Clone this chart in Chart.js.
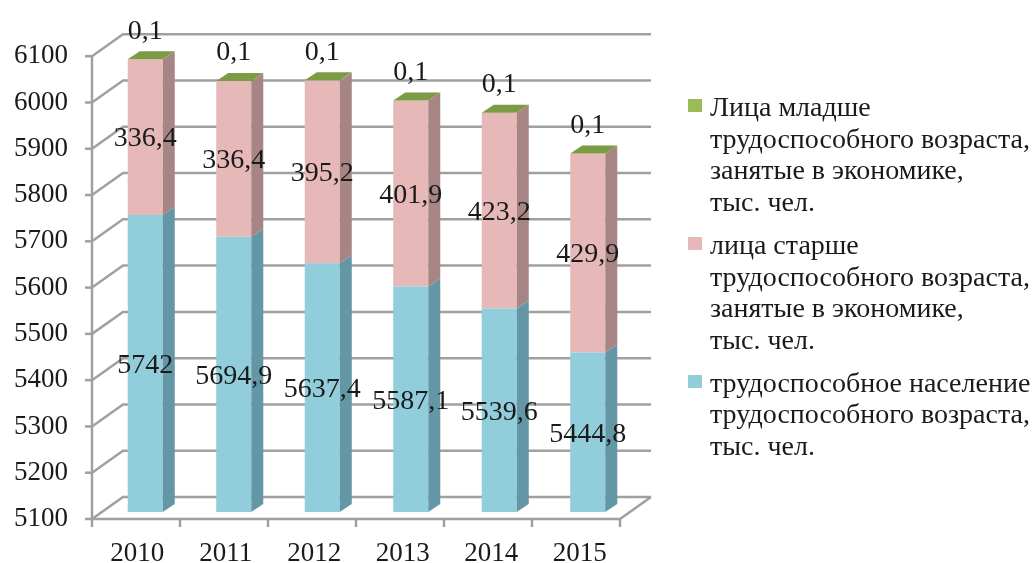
<!DOCTYPE html>
<html>
<head>
<meta charset="utf-8">
<script src="https://cdn.jsdelivr.net/npm/chart.js@4.4.1/dist/chart.umd.min.js"></script>
<style>
html,body{margin:0;padding:0;background:#fff;}
#wrap{position:relative;width:1035px;height:563px;}
#legend{position:absolute;left:688px;top:91px;font-family:"Liberation Serif","Times New Roman",serif;font-size:28px;line-height:31.7px;color:#1a1a1a;}
.item{position:relative;padding-left:22px;margin-bottom:11px;white-space:nowrap;}
.sw{position:absolute;left:0;top:8px;width:14px;height:13px;}
</style>
</head>
<body>
<div id="wrap">
<canvas id="c" width="1035" height="563"></canvas>
<div id="legend"></div>
</div>
<script>
const categories = ['2010','2011','2012','2013','2014','2015'];
const workingAge = [5742, 5694.9, 5637.4, 5587.1, 5539.6, 5444.8];
const olderAge = [336.4, 336.4, 395.2, 401.9, 423.2, 429.9];
const youngerAge = [0.1, 0.1, 0.1, 0.1, 0.1, 0.1];
const workingLabels = ['5742','5694,9','5637,4','5587,1','5539,6','5444,8'];
const olderLabels = ['336,4','336,4','395,2','401,9','423,2','429,9'];
const youngerLabels = ['0,1','0,1','0,1','0,1','0,1','0,1'];
const yTicks = [5100,5200,5300,5400,5500,5600,5700,5800,5900,6000,6100];
const seriesNames = [
  ['Лица младше','трудоспособного возраста,','занятые в экономике,','тыс. чел.'],
  ['лица старше','трудоспособного возраста,','занятые в экономике,','тыс. чел.'],
  ['трудоспособное население','трудоспособного возраста,','тыс. чел.']
];
const colors = {
  blue:'#92cddc', blueSide:'#6497a6',
  pink:'#e6b9b8', pinkSide:'#a88585',
  green:'#9bbb59', greenTop:'#7b9c45'
};

// legend (HTML)
const lg = document.getElementById('legend');
const legendColors = [colors.green, colors.pink, colors.blue];
seriesNames.forEach((lines,i)=>{
  const d = document.createElement('div'); d.className='item';
  const s = document.createElement('span'); s.className='sw'; s.style.background=legendColors[i];
  d.appendChild(s);
  lines.forEach((t,j)=>{ const l=document.createElement('div'); l.textContent=t; d.appendChild(l); });
  lg.appendChild(d);
});

const FONT = '"Liberation Serif","Times New Roman",serif';
const DX = 12, DY = 8;        // bar depth
const WX = 31, WY = 22;       // wall depth
const FRONT_OFF = 7;          // front axis is 7px below bar plane

const threeD = {
  id:'threeD',
  beforeDatasetsDraw(chart){
    const ctx = chart.ctx, y = chart.scales.y;
    const left = 92, right = 620;
    ctx.save();
    ctx.strokeStyle = '#a0a0a0';
    ctx.lineWidth = 2.5;
    ctx.lineCap = 'butt';
    yTicks.forEach(v=>{
      const py = y.getPixelForValue(v);
      const fy = py + FRONT_OFF;
      const by = fy - WY;
      ctx.beginPath();
      ctx.moveTo(left, fy); ctx.lineTo(left+WX, by); ctx.lineTo(right+WX, by);
      ctx.stroke();
      ctx.beginPath(); ctx.moveTo(left-7, fy); ctx.lineTo(left, fy); ctx.stroke();
    });
    const fy0 = y.getPixelForValue(yTicks[0]) + FRONT_OFF;
    const fyTop = y.getPixelForValue(yTicks[yTicks.length-1]) + FRONT_OFF;
    ctx.beginPath(); ctx.moveTo(left, fyTop); ctx.lineTo(left, fy0); ctx.stroke();
    ctx.beginPath(); ctx.moveTo(left, fy0); ctx.lineTo(right, fy0); ctx.lineTo(right+WX, fy0-WY); ctx.stroke();
    const n = categories.length;
    for(let i=0;i<=n;i++){
      const tx = left + (right-left)*i/n;
      ctx.beginPath(); ctx.moveTo(tx, fy0); ctx.lineTo(tx, fy0+8); ctx.stroke();
    }
    ctx.restore();
  },
  afterDatasetsDraw(chart){
    const ctx = chart.ctx, y = chart.scales.y;
    const floorY = y.getPixelForValue(yTicks[0]);
    const sides = [colors.blueSide, colors.pinkSide, colors.green];
    ctx.save();
    chart.data.datasets.forEach((ds, di)=>{
      const meta = chart.getDatasetMeta(di);
      meta.data.forEach(el=>{
        const r = el.x + el.width/2, l = el.x - el.width/2;
        const top = Math.min(el.y, el.base), bot = Math.min(Math.max(el.y, el.base), floorY);
        ctx.fillStyle = sides[di];
        ctx.beginPath();
        ctx.moveTo(r, top); ctx.lineTo(r+DX, top-DY); ctx.lineTo(r+DX, bot-DY); ctx.lineTo(r, bot);
        ctx.closePath(); ctx.fill();
        if(di === chart.data.datasets.length-1){
          ctx.fillStyle = colors.greenTop;
          ctx.beginPath();
          ctx.moveTo(l, top); ctx.lineTo(l+DX, top-DY); ctx.lineTo(r+DX, top-DY); ctx.lineTo(r, top);
          ctx.closePath(); ctx.fill();
        }
      });
    });
    ctx.fillStyle = '#1a1a1a';
    ctx.font = '28px ' + FONT;
    ctx.textAlign = 'center';
    ctx.textBaseline = 'middle';
    const labelSets = [workingLabels, olderLabels, youngerLabels];
    chart.data.datasets.forEach((ds, di)=>{
      const meta = chart.getDatasetMeta(di);
      meta.data.forEach((el,i)=>{
        let ly;
        if(di === 2) ly = el.y - 28;
        else ly = (el.y + Math.min(el.base, floorY))/2 + 2;
        ctx.fillText(labelSets[di][i], el.x, ly);
      });
    });
    ctx.restore();
  }
};

new Chart(document.getElementById('c'), {
  type:'bar',
  data:{
    labels: categories,
    datasets:[
      {label:'трудоспособное население трудоспособного возраста, тыс. чел.', data: workingAge, backgroundColor: colors.blue},
      {label:'лица старше трудоспособного возраста, занятые в экономике, тыс. чел.', data: olderAge, backgroundColor: colors.pink},
      {label:'Лица младше трудоспособного возраста, занятые в экономике, тыс. чел.', data: youngerAge, backgroundColor: colors.green}
    ]
  },
  options:{
    responsive:false,
    animation:false,
    events:[],
    layout:{padding:{left:0, right:403, top:43, bottom:0}},
    datasets:{bar:{barPercentage:0.396, categoryPercentage:1.0}},
    plugins:{legend:{display:false}, tooltip:{enabled:false}},
    scales:{
      x:{
        stacked:true,
        grid:{display:false, drawTicks:false},
        border:{display:false},
        ticks:{font:{family:FONT, size:27}, color:'#1a1a1a', padding:26, labelOffset:-8, maxRotation:0},
        afterFit(s){ s.height = 51; }
      },
      y:{
        stacked:true,
        min:5100, max:6100,
        grid:{display:false, drawTicks:false},
        border:{display:false},
        ticks:{stepSize:100, font:{family:FONT, size:27}, color:'#1a1a1a', padding:33, labelOffset:7,
               callback:(v)=>String(v)},
        afterFit(s){ s.width = 101; }
      }
    }
  },
  plugins:[threeD]
});
</script>
</body>
</html>
